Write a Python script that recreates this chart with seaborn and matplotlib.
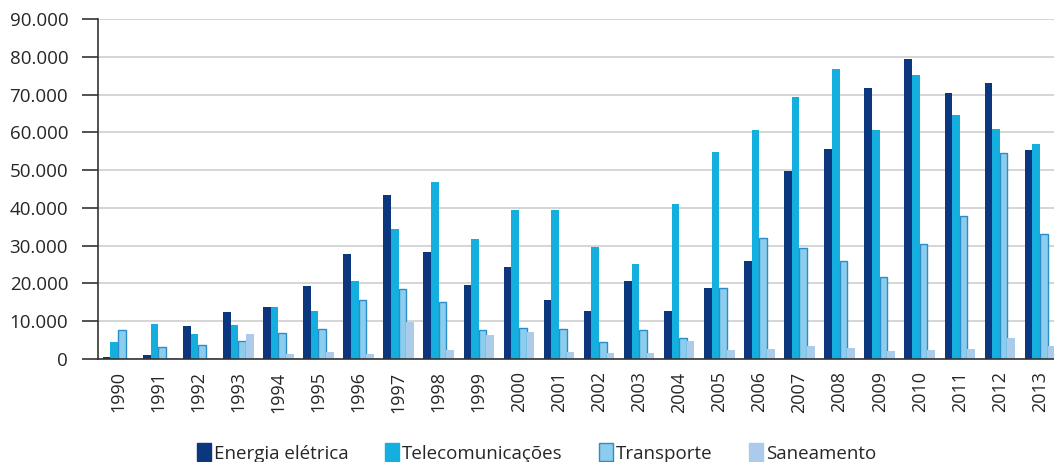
import matplotlib
matplotlib.use("Agg")
import matplotlib.pyplot as plt
import matplotlib.ticker as mticker
from matplotlib.patches import Patch
import numpy as np
import pandas as pd
import seaborn as sns

# values
years = [str(y) for y in range(1990, 2014)]
energia = [500, 1000, 8650, 12350, 13750, 19400, 27800, 43500, 28400, 19700, 24300, 15600,
           12800, 20550, 12800, 18800, 25850, 49700, 55600, 71700, 79300, 70300, 73000, 55300]
telecom = [4500, 9300, 6600, 9000, 13750, 12700, 20600, 34400, 46800, 31700, 39400, 39400,
           29600, 25100, 41000, 54800, 60600, 69300, 76700, 60600, 75100, 64550, 60800, 56900]
transporte = [7700, 3100, 3600, 4700, 6900, 7850, 15600, 18400, 15200, 7800, 8100, 7900,
              4400, 7600, 5650, 18800, 31900, 29500, 25850, 21700, 30300, 37900, 54400, 33150]
saneamento = [0, 200, 300, 6600, 1300, 1850, 1300, 9900, 2400, 6350, 7100, 1850,
              1600, 1600, 4750, 2400, 2650, 3400, 2900, 2100, 2400, 2650, 5550, 3400]

series = ["Energia elétrica", "Telecomunicações", "Transporte", "Saneamento"]
colors = {"Energia elétrica": "#0b377f", "Telecomunicações": "#14afde",
          "Transporte": "#8ccdee", "Saneamento": "#abcbea"}

df = pd.concat([
    pd.DataFrame({"Ano": years, "Valor": vals, "Serie": name})
    for name, vals in zip(series, [energia, telecom, transporte, saneamento])
])

sns.set_style("white")
plt.rcParams["font.family"] = ["Open Sans", "DejaVu Sans"]

fig = plt.figure(figsize=(10.54, 4.62), dpi=100)
ax = fig.add_axes([0.093, 0.223, 0.9127, 0.736])

sns.barplot(data=df, x="Ano", y="Valor", hue="Serie", palette=colors,
            width=0.76, gap=0, saturation=1, linewidth=0, ax=ax, legend=False)

# Transporte bars have a darker outline
for bar in ax.containers[2]:
    bar.set_edgecolor("#2a8cc8")
    bar.set_linewidth(1.0)

ax.set_xlim(-0.5, len(years) - 0.5)
ax.set_ylim(0, 90000)
ax.yaxis.set_major_locator(mticker.MultipleLocator(10000))
ax.yaxis.set_major_formatter(mticker.FuncFormatter(lambda v, p: f"{v:,.0f}".replace(",", ".")))
ax.grid(axis="y", color="#d2d2d2", linewidth=1.3)
ax.set_axisbelow(True)

for s in ["top", "right"]:
    ax.spines[s].set_visible(False)
ax.spines["left"].set_color("#333333")
ax.spines["bottom"].set_color("#333333")
ax.spines["left"].set_linewidth(1.2)
ax.spines["bottom"].set_linewidth(1.2)

# separators between categories instead of centred ticks
ax.set_xticks(np.arange(-0.5, len(years)), minor=True)
ax.tick_params(axis="x", which="minor", length=11.5, width=1.2, color="#333333", direction="out")
ax.tick_params(axis="x", which="major", length=0, pad=9, labelsize=13, rotation=90)
ax.tick_params(axis="y", length=11.5, width=1.2, color="#333333", labelsize=13.5, pad=10,
               left=True)
ax.set_xlabel("")
ax.set_ylabel("")

handles = [Patch(facecolor=colors[s], edgecolor="#2a8cc8" if s == "Transporte" else colors[s],
                 linewidth=1.0) for s in series]
fig.legend(handles, series, loc="lower center", bbox_to_anchor=(0.509, -0.038), ncol=4,
           frameon=False, fontsize=13.5, handlelength=0.75, handleheight=1.1,
           handletextpad=0.15, columnspacing=1.95)

fig.savefig("out.png", dpi=100)
